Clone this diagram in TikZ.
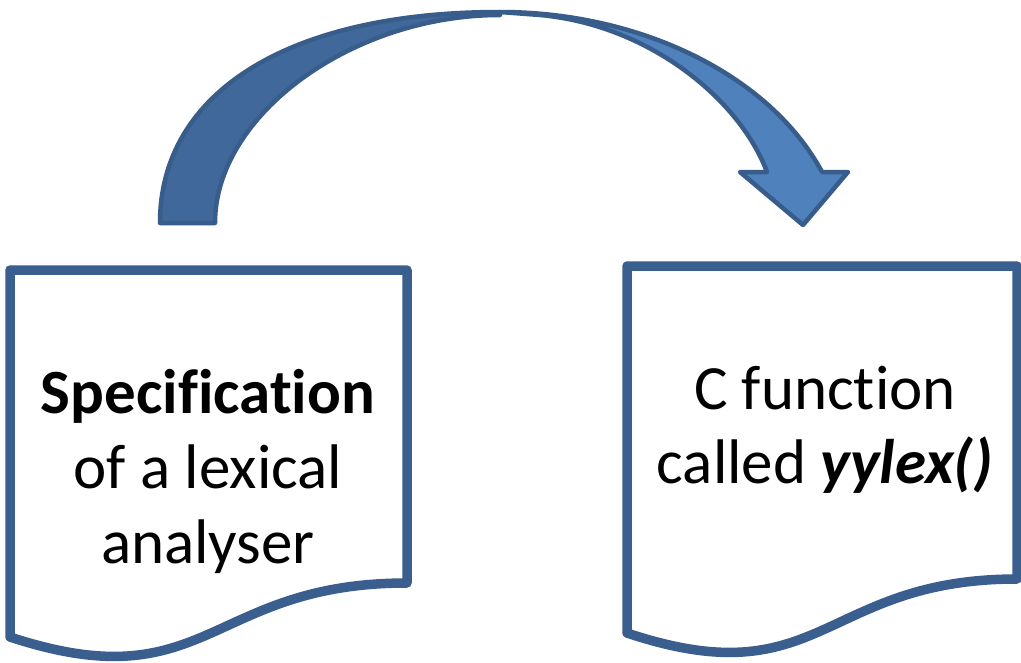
\documentclass[tikz,border=0pt]{standalone}
\usepackage{fontspec}
\setmainfont[Ligatures=NoCommon]{Carlito}
\definecolor{docline}{HTML}{3A5F8E}
\definecolor{arrowdark}{HTML}{41689A}
\definecolor{arrowlight}{HTML}{4F81BD}
\definecolor{arrowline}{HTML}{385D8A}
\begin{document}
\begin{tikzpicture}[x=1pt,y=-1pt,
  docshape/.style={draw=docline, line width=9.5pt, fill=white, line join=round},
  arrowpart/.style={draw=arrowline, line width=4.5pt, line join=round},
  txt/.style={anchor=base, inner sep=0pt, font=\fontsize{63}{75}\selectfont}]
\useasboundingbox (0,0) rectangle (1021,662);
\fill[white] (0,0) rectangle (1021,662);

% documents
\draw[docshape] (10,270) -- (407,270) -- (407,583)
  .. controls (208,583) and (208,702) .. (10,637) -- cycle;
\draw[docshape] (627,266) -- (1017,266) -- (1017,579)
  .. controls (822,579) and (822,698) .. (627,633) -- cycle;

% curved arrow
\draw[arrowpart, fill=arrowdark] (160,223) .. controls (160,92) and (289,12) .. (500,12)
  -- (500,15) .. controls (352,15) and (215,115) .. (215,223) -- cycle;
\draw[arrowpart, fill=arrowlight] (500,12) .. controls (640,12) and (770,75) .. (822,172)
  -- (848,172) -- (803,225) -- (740,172) -- (767,172)
  .. controls (740,100) and (650,25) .. (540,15) -- cycle;

% texts
\node[txt] (l1) at (208,413) {\bfseries Specification};
\node[txt] (l2) at (208,488) {of a lexical};
\node[txt] (l3) at (208,563) {analyser};
\node[txt] (r1) at (825,409) {C function};
\node[txt] (r2) at (825,483) {called \textbf{\textit{yylex()}}};
\end{tikzpicture}
\end{document}
